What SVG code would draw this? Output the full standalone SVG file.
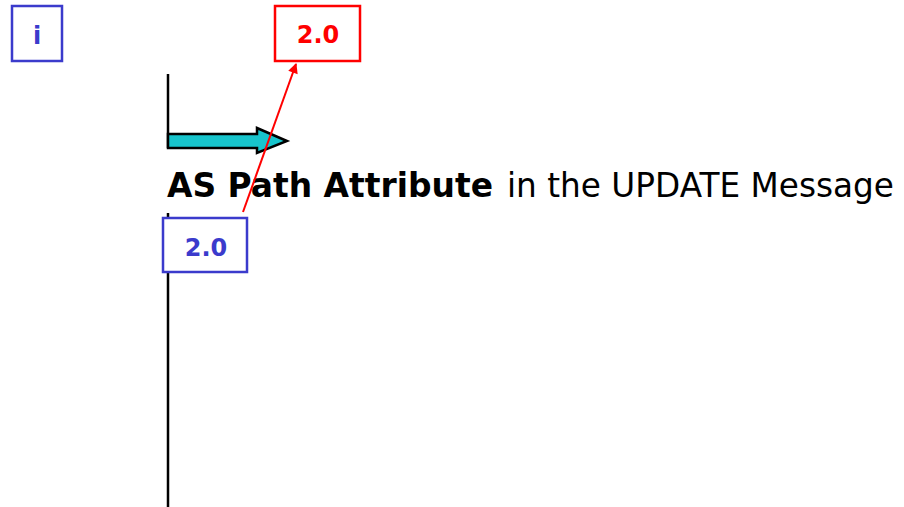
<svg xmlns="http://www.w3.org/2000/svg" width="904" height="507" viewBox="0 0 904 507">
  <defs>
    <style>
      .box-blue { fill: #ffffff; stroke: #3b3bcc; stroke-width: 2.5; }
      .box-red { fill: #ffffff; stroke: #ff0000; stroke-width: 2.5; }
      .lbl { font-family: "DejaVu Sans", Verdana, sans-serif; font-weight: bold; font-size: 24px; text-anchor: middle; }
      .axis { stroke: #000000; stroke-width: 2.5; fill: none; }
      .title { font-family: "DejaVu Sans", Verdana, sans-serif; font-size: 33px; fill: #000000; }
    </style>
    <marker id="redHead" viewBox="0 0 10 10" refX="9" refY="5" markerWidth="12" markerHeight="10" orient="auto" markerUnits="userSpaceOnUse">
      <path d="M0,0 L10,5 L0,10 z" fill="#ff0000"/>
    </marker>
  </defs>

  <rect width="904" height="507" fill="#ffffff"/>

  <!-- title -->
  <text class="title" x="167" y="197" font-weight="bold" textLength="326" lengthAdjust="spacingAndGlyphs">AS Path Attribute</text>
  <text class="title" x="507" y="197" font-size="32.5" textLength="387" lengthAdjust="spacingAndGlyphs">in the UPDATE Message</text>

  <g id="connectors">
    <!-- vertical timeline -->
    <line class="axis" x1="168" y1="74" x2="168" y2="148"/>
    <line class="axis" x1="168" y1="213" x2="168" y2="507"/>
    <!-- block arrow -->
    <path d="M168,134 L257,134 L257,128 L287,141 L257,153 L257,148 L168,148 Z" fill="#17c4cc" stroke="#000000" stroke-width="2.5" stroke-linejoin="miter"/>
    <!-- red pointer -->
    <line x1="243" y1="212" x2="296" y2="64" stroke="#ff0000" stroke-width="2" marker-end="url(#redHead)"/>
  </g>

  <g id="node-i">
    <rect class="box-blue" x="12" y="6" width="50" height="55"/>
    <text class="lbl" x="37" y="44" fill="#3b3bcc" font-size="26">i</text>
  </g>

  <g id="node-red">
    <rect class="box-red" x="275" y="6" width="85" height="55"/>
    <text class="lbl" x="318" y="43" fill="#ff0000">2.0</text>
  </g>

  <g id="node-blue">
    <rect class="box-blue" x="163" y="218" width="84" height="54"/>
    <text class="lbl" x="206" y="256" fill="#3b3bcc">2.0</text>
  </g>
</svg>
